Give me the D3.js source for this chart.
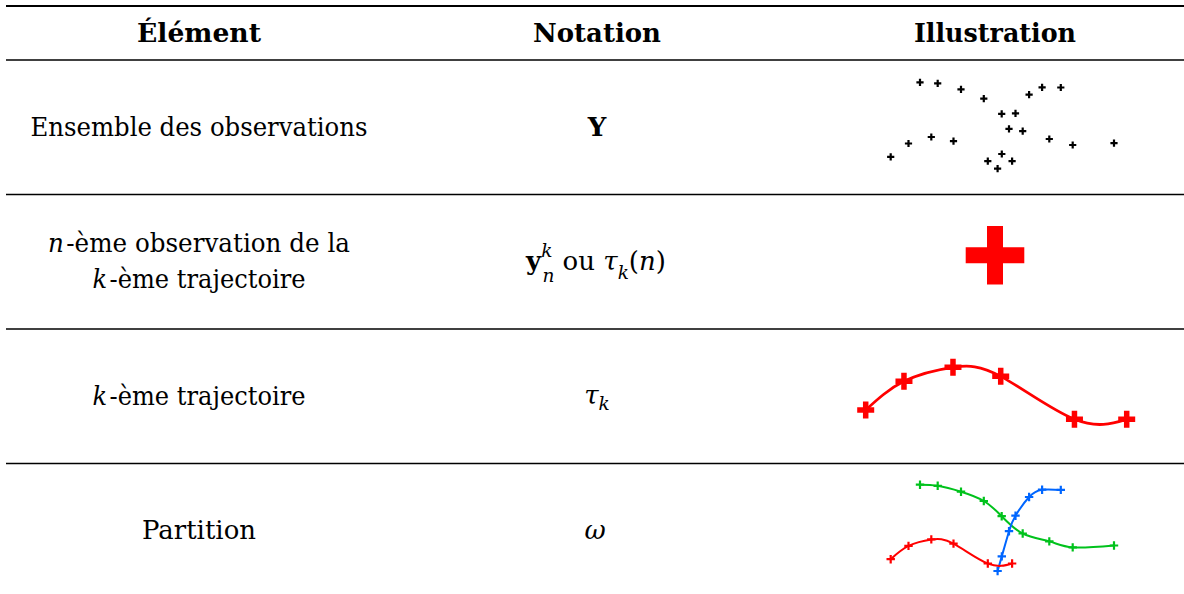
<!DOCTYPE html>
<html>
<head>
<meta charset="utf-8">
<script src="https://cdn.jsdelivr.net/npm/d3@7"></script>
<style>
  html, body { margin: 0; padding: 0; background: #fff; }
  svg { display: block; }
</style>
</head>
<body>
<svg width="1184" height="594"></svg>
<script>
// table content
var columns = ["Élément", "Notation", "Illustration"];
var rowNames = ["Ensemble des observations", "n-ème observation de la k-ème trajectoire", "k-ème trajectoire", "Partition"];

// observations of the three trajectories (x, y in picture units)
var greenX = [40, 57.7, 81, 103.8, 121.7, 142.7, 169.3, 192.7, 234];
var greenY = [4.7, 5.8, 11.7, 21, 36.2, 53.5, 61.4, 67.4, 65.5];
var blueX = [117.6, 121.8, 129, 135.5, 149.1, 162.1, 180.8];
var blueY = [91, 76.4, 51.2, 35.7, 17, 9.7, 9.9];
var redX = [10.7, 28.5, 51.3, 73.5, 107.8, 132.1];
var redY = [79.2, 65.9, 59.4, 63.6, 83.5, 83.5];

var trajectories = [
    { color: "#00c21c", xs: greenX, ys: greenY },
    { color: "#0066ff", xs: blueX, ys: blueY },
    { color: "#ff0000", xs: redX, ys: redY }
];

/* layout */
var serif = "DejaVu Serif";
var svg = d3.select("svg").style("font-family", serif);
var width = 1184, height = 594;
var fontSize = 25.5, mathSize = 26, smallSize = 18.5;

// target widths so the serif font spans like the Computer Modern original
var textWidths = {
    "Élément": 124, "Notation": 128, "Illustration": 162,
    "Ensemble des observations": 337, "n-ème observation de la": 302,
    "k-ème trajectoire": 213, "Partition": 114
};

var colX = d3.scalePoint().domain(columns).range([199, 995]);
var rowY = d3.scaleBand().domain(d3.range(rowNames.length)).range([60, 598]);

// rules
svg.append("line")
    .attr("x1", 6).attr("x2", width).attr("y1", 6).attr("y2", 6)
    .attr("stroke", "#000").attr("stroke-width", 2);
svg.selectAll("line.rule")
    .data(d3.range(rowNames.length))
    .join("line")
    .attr("class", "rule")
    .attr("x1", 6).attr("x2", width)
    .attr("y1", (d) => rowY(d))
    .attr("y2", (d) => rowY(d))
    .attr("stroke", "#000").attr("stroke-width", 1.3);

// header
svg.selectAll("text.head")
    .data(columns)
    .join("text")
    .attr("class", "head")
    .style("font-family", serif)
    .attr("x", (d) => colX(d))
    .attr("y", 42)
    .attr("text-anchor", "middle")
    .attr("font-size", fontSize)
    .attr("font-weight", "bold")
    .attr("textLength", (d) => textWidths[d])
    .attr("lengthAdjust", "spacingAndGlyphs")
    .text((d) => d);

// a line of text where a leading single letter is math italic
var mathLine = (x, y, str) => {
    var t = svg.append("text")
        .style("font-family", serif)
        .attr("x", x).attr("y", y)
        .attr("text-anchor", "middle")
        .attr("font-size", fontSize)
        .attr("textLength", textWidths[str])
        .attr("lengthAdjust", "spacingAndGlyphs");
    var m = str.match(/^([nk])(-.*)$/);
    if (m) {
        t.append("tspan").attr("font-style", "italic").text(m[1] + "\u200a");
        t.append("tspan").text(m[2]);
    } else {
        t.text(str);
    }
};

var mid = (i) => rowY(i) + rowY.bandwidth() / 2;

// first column
mathLine(colX(columns[0]), mid(0) + 8.5, "Ensemble des observations");
mathLine(colX(columns[0]), mid(1) - 10, "n-ème observation de la");
mathLine(colX(columns[0]), mid(1) + 26, "k-ème trajectoire");
mathLine(colX(columns[0]), mid(2) + 8.5, "k-ème trajectoire");
mathLine(colX(columns[0]), mid(3) + 8.5, "Partition");

// notation column
var nx = colX(columns[1]);
svg.append("text").attr("x", nx).attr("y", mid(0) + 8.5)
    .style("font-family", serif)
    .attr("text-anchor", "middle").attr("font-size", mathSize)
    .attr("font-weight", "bold").text("Y");

var t2 = svg.append("text").attr("x", nx - 1).attr("y", mid(1) + 8)
    .style("font-family", serif)
    .attr("text-anchor", "middle").attr("font-size", mathSize);
t2.append("tspan").attr("font-weight", "bold").text("y");
t2.append("tspan").attr("font-style", "italic").attr("font-size", smallSize)
    .attr("dy", -12.5).text("k");
t2.append("tspan").attr("font-style", "italic").attr("font-size", smallSize)
    .attr("dx", -10).attr("dy", 24.5).text("n");
t2.append("tspan").attr("dy", -12).text(" ou ");
t2.append("tspan").attr("font-style", "italic").text("τ");
t2.append("tspan").attr("font-style", "italic").attr("font-size", smallSize)
    .attr("dy", 9).text("k");
t2.append("tspan").attr("dy", -9).text("(");
t2.append("tspan").attr("font-style", "italic").text("n");
t2.append("tspan").text(")");

var t3 = svg.append("text").attr("x", nx).attr("y", mid(2) + 8)
    .style("font-family", serif)
    .attr("text-anchor", "middle").attr("font-size", mathSize);
t3.append("tspan").attr("font-style", "italic").text("τ");
t3.append("tspan").attr("font-style", "italic").attr("font-size", smallSize)
    .attr("dy", 6).text("k");

svg.append("text").attr("x", nx - 2).attr("y", mid(3) + 8)
    .style("font-family", serif)
    .attr("text-anchor", "middle").attr("font-size", mathSize)
    .attr("font-style", "italic").text("ω");

/* illustrations */
var plus = (a) => `M${-a},0H${a}M0,${-a}V${a}`;

var drawMarkers = (g, pts, color, a, w) => {
    g.selectAll(null)
        .data(pts)
        .join("path")
        .attr("d", plus(a))
        .attr("transform", (d) => `translate(${d[0]},${d[1]})`)
        .attr("fill", "none")
        .attr("stroke", color)
        .attr("stroke-width", w);
};

var pointsOf = (tr, x, y) => tr.xs.map((v, i) => [x(v), y(tr.ys[i])]);

// row 1: every observation, no labels
var sx = d3.scaleLinear().domain([0, 250]).range([880, 1130]);
var sy = d3.scaleLinear().domain([0, 100]).range([rowY(0) + 17.6, rowY(0) + 117.6]);
var g1 = svg.append("g");
trajectories.forEach((tr) => drawMarkers(g1, pointsOf(tr, sx, sy), "#000", 3.6, 2.2));

// row 2: one observation
var g2 = svg.append("g");
drawMarkers(g2, [[colX(columns[2]), mid(1) - 6.5]], "#ff0000", 29.3, 16);

// row 3: the red trajectory, enlarged
var tx = d3.scaleLinear().domain([10.7, 132.1]).range([865.7, 1126.7]);
var ty = d3.scaleLinear().domain([59.4, 83.5]).range([rowY(2) + 38.3, rowY(2) + 90.3]);
var red = trajectories[2];
var g3 = svg.append("g");
var line3 = d3.line().curve(d3.curveNatural);
g3.append("path")
    .attr("d", line3(pointsOf(red, tx, ty)))
    .attr("fill", "none").attr("stroke", red.color).attr("stroke-width", 2.8);
drawMarkers(g3, pointsOf(red, tx, ty), red.color, 8.5, 5.5);

// row 4: partition into three trajectories
var px = d3.scaleLinear().domain([0, 250]).range([880, 1130]);
var py = d3.scaleLinear().domain([0, 100]).range([rowY(3) + 16.5, rowY(3) + 116.5]);
var g4 = svg.append("g");
trajectories.forEach((tr) => {
    g4.append("path")
        .attr("d", line3(pointsOf(tr, px, py)))
        .attr("fill", "none").attr("stroke", tr.color).attr("stroke-width", 2);
    drawMarkers(g4, pointsOf(tr, px, py), tr.color, 4.2, 2.2);
});
</script>
</body>
</html>
